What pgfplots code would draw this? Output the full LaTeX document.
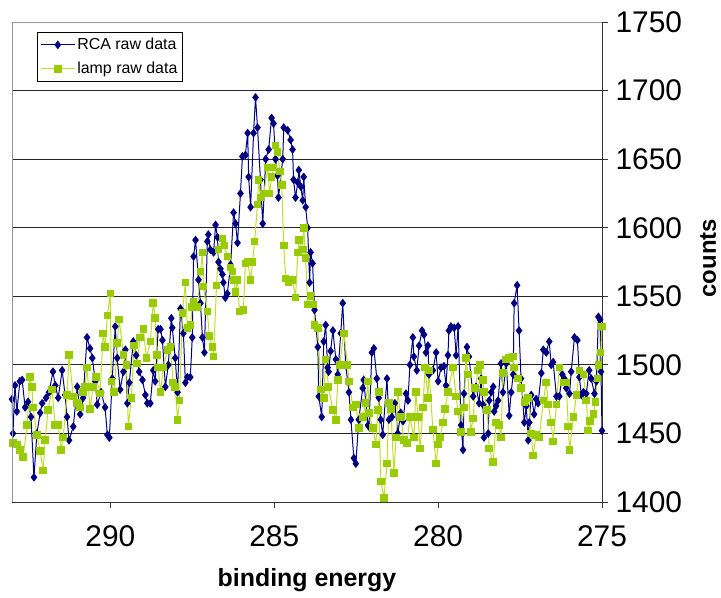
\documentclass[border=0pt]{standalone}
\usepackage{pgfplots}
\pgfplotsset{compat=1.18}
\usepackage{fontspec}
\setmainfont{Liberation Sans}
\definecolor{rcablue}{RGB}{0,0,128}
\definecolor{lampgreen}{RGB}{153,204,0}
\definecolor{lampline}{RGB}{190,222,40}
\definecolor{framegray}{RGB}{150,150,150}
\begin{document}
\begin{tikzpicture}
\begin{axis}[
  name=ax,
  scale only axis, width=590bp, height=480bp,
  x dir=reverse, xmin=275, xmax=293, ymin=1400, ymax=1750,
  xtick={275,280,285,290}, ytick={1400,1450,...,1750},
  axis x line=bottom, axis y line=right,
  axis line style={-, black!80, line width=0.8bp},
  ymajorgrids, grid style={black!85, line width=0.8bp},
  tick align=outside, major tick length=6bp,
  tick style={black!80, line width=0.8bp},
  /pgf/number format/assume math mode=true,
  /pgf/number format/1000 sep={},
  ticklabel style={font=\fontsize{30}{36}\selectfont},
  xticklabel style={yshift=-14bp},
  yticklabel style={xshift=4bp},
  xlabel={\textbf{binding energy}}, ylabel={\textbf{counts}},
  xlabel style={font=\fontsize{25}{30}\selectfont, at={(axis description cs:0.5,-0.1625)}, anchor=center},
  ylabel style={font=\fontsize{24}{28}\selectfont, at={(axis description cs:1.18,0.508)}, anchor=center, rotate=0},
  legend style={at={(axis description cs:0.0424,0.979)}, anchor=north west, draw=black, line width=0.6bp, fill=white, font=\fontsize{16}{19}\selectfont, row sep=7bp, inner xsep=3bp, inner ysep=4bp, cells={anchor=west}},
  legend image code/.code={\draw[mark repeat=2,mark phase=2,#1] plot coordinates {(0bp,0bp) (17bp,0bp) (34bp,0bp)};},
]
\addplot[color=rcablue, line width=1bp, mark=diamond*, mark size=3.6bp, mark options={solid, fill=rcablue}] table {
x y
293.00 1475
292.97 1450
292.91 1485
292.85 1466
292.76 1488
292.69 1489
292.60 1469
292.51 1473
292.42 1462
292.33 1418
292.24 1450
292.14 1465
292.08 1472
291.96 1476
291.87 1480
291.75 1495
291.68 1485
291.59 1476
291.47 1496
291.38 1478
291.32 1462
291.26 1445
291.13 1455
291.01 1484
290.92 1464
290.83 1476
290.71 1520
290.62 1512
290.55 1505
290.46 1488
290.40 1471
290.28 1480
290.16 1469
290.09 1449
290.03 1447
289.94 1490
289.85 1528
289.79 1505
289.70 1482
289.60 1495
289.54 1511
289.48 1472
289.42 1487
289.30 1517
289.21 1507
289.12 1495
289.02 1489
288.93 1478
288.87 1472
288.78 1472
288.69 1496
288.63 1488
288.54 1526
288.47 1526
288.41 1518
288.32 1484
288.23 1500
288.14 1534
288.11 1527
288.02 1505
287.95 1480
287.86 1541
287.77 1523
287.71 1487
287.65 1491
287.56 1491
287.50 1520
287.46 1579
287.40 1591
287.31 1562
287.25 1545
287.19 1520
287.13 1509
287.04 1590
287.01 1595
286.95 1584
286.85 1582
286.79 1602
286.73 1593
286.70 1575
286.64 1570
286.58 1566
286.55 1560
286.49 1549
286.43 1552
286.33 1573
286.24 1611
286.18 1603
286.12 1589
286.03 1625
285.97 1652
285.88 1653
285.81 1669
285.78 1637
285.72 1615
285.63 1669
285.57 1695
285.51 1673
285.42 1635
285.35 1603
285.26 1650
285.17 1657
285.08 1680
285.02 1676
284.96 1650
284.90 1638
284.87 1622
284.74 1650
284.71 1673
284.59 1671
284.50 1664
284.44 1657
284.41 1635
284.35 1622
284.28 1633
284.25 1642
284.19 1630
284.13 1620
284.10 1637
284.04 1615
283.98 1600
283.92 1560
283.89 1582
283.83 1574
283.77 1540
283.67 1513
283.64 1477
283.55 1462
283.49 1517
283.43 1529
283.37 1498
283.34 1495
283.28 1510
283.21 1525
283.12 1504
283.06 1493
282.97 1523
282.91 1545
282.82 1500
282.72 1480
282.66 1460
282.57 1432
282.51 1428
282.42 1460
282.30 1483
282.27 1489
282.14 1456
282.11 1455
282.02 1509
281.96 1512
281.87 1490
281.81 1476
281.75 1460
281.69 1449
281.56 1490
281.50 1460
281.41 1462
281.32 1472
281.23 1450
281.14 1465
281.07 1459
280.98 1479
280.92 1474
280.86 1500
280.77 1520
280.74 1506
280.65 1496
280.58 1514
280.49 1525
280.43 1522
280.37 1509
280.31 1514
280.28 1493
280.16 1496
280.06 1509
280.00 1488
279.91 1498
279.82 1499
279.76 1485
279.70 1507
279.67 1525
279.61 1528
279.51 1527
279.45 1507
279.39 1528
279.30 1456
279.24 1438
279.21 1479
279.12 1513
279.06 1506
278.93 1477
278.84 1484
278.75 1472
278.69 1490
278.63 1471
278.60 1447
278.47 1450
278.44 1474
278.38 1480
278.32 1484
278.29 1466
278.23 1470
278.17 1474
278.08 1501
278.02 1480
277.92 1501
277.83 1463
277.77 1480
277.71 1493
277.68 1545
277.59 1558
277.53 1525
277.47 1490
277.37 1458
277.31 1470
277.25 1445
277.22 1458
277.16 1478
277.07 1464
277.01 1475
276.95 1472
276.85 1494
276.79 1511
276.70 1509
276.61 1517
276.55 1500
276.49 1502
276.39 1477
276.30 1477
276.21 1493
276.15 1490
276.09 1483
275.99 1479
275.94 1495
275.84 1520
275.75 1518
275.69 1491
275.63 1478
275.57 1480
275.48 1479
275.39 1496
275.33 1490
275.23 1479
275.17 1488
275.11 1535
275.06 1533
275.03 1495
275.00 1452
};
\addlegendentry{RCA raw data}
\addplot[color=lampline, line width=1bp, mark=square*, mark size=3.3bp, mark options={solid, draw=lampgreen, fill=lampgreen}] table {
x y
292.97 1443
292.85 1442
292.76 1438
292.66 1433
292.54 1456
292.45 1491
292.39 1484
292.36 1469
292.24 1449
292.14 1437
292.05 1423
291.99 1445
291.90 1467
291.78 1482
291.68 1456
291.59 1456
291.50 1438
291.44 1447
291.32 1478
291.26 1507
291.13 1477
291.01 1472
290.92 1469
290.83 1480
290.77 1484
290.71 1498
290.62 1468
290.52 1484
290.43 1491
290.31 1479
290.22 1523
290.16 1513
290.09 1536
290.00 1552
289.97 1488
289.88 1480
289.79 1516
289.73 1533
289.60 1507
289.51 1500
289.45 1455
289.36 1476
289.27 1514
289.18 1501
289.09 1520
288.99 1526
288.90 1505
288.78 1517
288.69 1545
288.63 1534
288.57 1507
288.54 1498
288.47 1480
288.38 1498
288.26 1511
288.17 1513
288.08 1487
288.02 1484
287.95 1460
287.89 1474
287.80 1538
287.71 1560
287.65 1527
287.56 1529
287.50 1542
287.46 1546
287.34 1542
287.25 1568
287.19 1582
287.16 1557
287.04 1539
286.98 1521
286.88 1513
286.85 1506
286.76 1558
286.70 1584
286.58 1592
286.52 1587
286.43 1579
286.33 1571
286.27 1568
286.24 1562
286.18 1553
286.12 1562
286.06 1539
285.94 1540
285.88 1574
285.81 1575
285.72 1562
285.66 1575
285.60 1590
285.51 1617
285.48 1635
285.42 1622
285.32 1625
285.20 1644
285.14 1625
285.08 1637
285.02 1644
284.96 1660
284.90 1655
284.83 1641
284.77 1631
284.71 1587
284.65 1563
284.56 1560
284.44 1562
284.35 1549
284.28 1582
284.25 1591
284.13 1584
284.10 1600
284.04 1578
283.98 1544
283.89 1550
283.80 1544
283.77 1529
283.67 1527
283.58 1482
283.49 1476
283.43 1504
283.34 1484
283.21 1467
283.12 1460
283.06 1489
283.00 1500
282.88 1523
282.76 1500
282.72 1488
282.60 1469
282.51 1471
282.42 1454
282.30 1462
282.21 1472
282.14 1488
282.11 1465
281.99 1454
281.90 1442
281.84 1467
281.81 1480
281.75 1415
281.65 1403
281.56 1428
281.50 1472
281.44 1468
281.35 1421
281.28 1447
281.23 1480
281.14 1462
281.04 1445
280.95 1443
280.86 1462
280.74 1447
280.68 1480
280.61 1462
280.55 1439
280.46 1469
280.40 1498
280.31 1476
280.28 1496
280.16 1453
280.06 1428
280.00 1442
279.94 1447
279.85 1458
279.79 1468
279.70 1480
279.55 1498
279.45 1477
279.39 1466
279.30 1451
279.21 1469
279.15 1505
279.09 1493
279.00 1451
278.93 1461
278.87 1483
278.78 1496
278.72 1500
278.63 1489
278.60 1480
278.50 1467
278.44 1439
278.32 1429
278.23 1458
278.14 1456
278.08 1447
278.02 1494
277.92 1504
277.83 1505
277.71 1506
277.68 1498
277.56 1490
277.47 1483
277.37 1473
277.25 1476
277.16 1450
277.10 1434
277.01 1449
276.91 1447
276.79 1474
276.70 1487
276.64 1471
276.55 1458
276.49 1444
276.39 1471
276.30 1498
276.18 1487
276.09 1487
276.03 1455
275.99 1438
275.87 1462
275.78 1478
275.69 1496
275.57 1493
275.48 1474
275.42 1452
275.36 1459
275.26 1464
275.20 1473
275.14 1490
275.11 1500
275.04 1509
275.00 1528
};
\addlegendentry{lamp raw data}
\end{axis}
\draw[framegray, line width=0.8bp] (ax.south west) -- (ax.north west) -- (ax.north east);
\path (ax.south west) ++(-12bp,-96bp) rectangle ++(721bp,598bp);
\end{tikzpicture}
\end{document}
